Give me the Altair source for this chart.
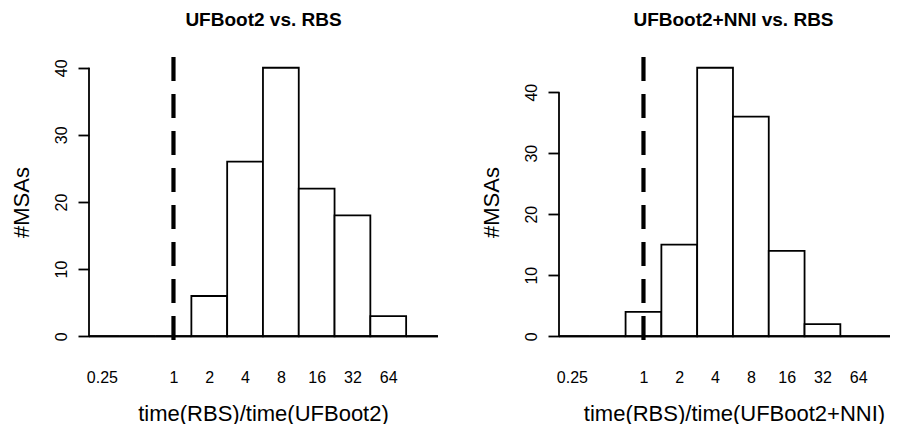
import altair as alt
import pandas as pd

FONT = "Liberation Sans"

# histogram bins in log2(time ratio) units
bin_lo = [-2.36, -1.5, -0.5, 0.5, 1.5, 2.5, 3.5, 4.5, 5.5, 6.5]
bin_hi_left = [-1.5, -0.5, 0.5, 1.5, 2.5, 3.5, 4.5, 5.5, 6.5, 7.39]
bin_hi_right = [-1.5, -0.5, 0.5, 1.5, 2.5, 3.5, 4.5, 5.5, 6.5, 6.887]
counts_left = [0, 0, 0, 6, 26, 40, 22, 18, 3, 0]
counts_right = [0, 0, 4, 15, 44, 36, 14, 2, 0, 0]

x_tick_log2 = [-2, 0, 1, 2, 3, 4, 5, 6]
x_tick_labels = ["0.25", "1", "2", "4", "8", "16", "32", "64"]
y_tick_values = [0, 10, 20, 30, 40]
y_axis_top = 40

titles = ["UFBoot2 vs. RBS", "UFBoot2+NNI vs. RBS"]
x_titles = ["time(RBS)/time(UFBoot2)", "time(RBS)/time(UFBoot2+NNI)"]
y_title = "#MSAs"
ref_log2 = 0  # ratio 1

label_expr = "''"
for v, lab in zip(reversed(x_tick_log2), reversed(x_tick_labels)):
    label_expr = f"datum.value == {v} ? '{lab}' : ({label_expr})"

LW = 1.8


def panel(lo, hi, counts, ydom, title, xtitle, width, title_dx, xtitle_x):
    xmin, xmax = lo[0], hi[-1]
    df = pd.DataFrame({"lo": lo, "hi": hi, "n": counts})
    xs = alt.Scale(domain=[xmin, xmax], nice=False, zero=False)
    ys = alt.Scale(domain=ydom, nice=False, zero=False)
    xax = alt.Axis(
        values=x_tick_log2, labelExpr=label_expr, ticks=False, tickSize=0,
        domain=False, grid=False, labelFlush=False, labelOverlap=False,
        labelFontSize=16, labelFont=FONT, labelColor="black",
        labelPadding=30, labelBaseline="middle", labelAlign="center",
        title=xtitle, titleFontSize=22, titleFont=FONT,
        titleFontWeight="normal", titleColor="black",
        titleX=xtitle_x, titleY=66, titleBaseline="middle", titleAlign="center",
    )
    yax = alt.Axis(
        values=y_tick_values, domain=False, grid=False,
        tickSize=11, tickWidth=LW, tickColor="black",
        labelAngle=-90, labelAlign="center", labelBaseline="middle",
        labelPadding=17, labelFontSize=16, labelFont=FONT,
        labelColor="black", labelFlush=False, labelOverlap=False,
        title=y_title, titleFontSize=22, titleFont=FONT,
        titleFontWeight="normal", titleColor="black", titleAngle=-90,
        titleX=-68, titleY=145, titleBaseline="middle", titleAlign="center",
    )

    bars = alt.Chart(df).mark_rect(
        fill="white", stroke="black", strokeWidth=LW
    ).encode(
        x=alt.X("lo:Q", scale=xs, axis=xax),
        x2="hi:Q",
        y=alt.Y("n:Q", scale=ys, axis=yax),
        y2=alt.datum(0),
    )

    base_df = pd.DataFrame({"a": [xmin], "b": [xmax], "z": [0], "t": [y_axis_top]})
    baseline = alt.Chart(base_df).mark_rule(color="black", strokeWidth=LW).encode(
        x=alt.X("a:Q", scale=xs, axis=xax), x2="b:Q",
        y=alt.Y("z:Q", scale=ys, axis=yax),
    )
    yline = alt.Chart(base_df).mark_rule(color="black", strokeWidth=LW).encode(
        x=alt.X("a:Q", scale=xs, axis=xax),
        y=alt.Y("z:Q", scale=ys, axis=yax), y2="t:Q",
    )
    ref_df = pd.DataFrame({"r": [ref_log2], "top": [ydom[1]], "bot": [ydom[0]]})
    ref = alt.Chart(ref_df).mark_rule(
        color="black", strokeWidth=4.2, strokeDash=[24, 13]
    ).encode(
        x=alt.X("r:Q", scale=xs, axis=xax),
        y=alt.Y("top:Q", scale=ys, axis=yax), y2="bot:Q",
    )

    return alt.layer(bars, baseline, yline, ref).properties(
        width=width, height=290,
        title=alt.TitleParams(
            text=title, fontSize=19, font=FONT, fontWeight="bold",
            color="black", anchor="middle", offset=10, baseline="alphabetic",
            frame="group", dx=title_dx,
        ),
    )


left = panel(bin_lo, bin_hi_left, counts_left, [-1.6, 41.6], titles[0], x_titles[0], 349, 0, 174)
right = panel(bin_lo, bin_hi_right, counts_right, [-1.76, 45.76], titles[1], x_titles[1], 331, 9, 175)

chart = alt.hconcat(left, right, spacing=121, bounds="flush").properties(
    padding={"left": 2, "top": 2, "right": 0, "bottom": 0}
).configure(background="white", view=alt.ViewConfig(strokeWidth=0))

chart.save("out.html", embed_options={"renderer": "svg", "actions": False})
